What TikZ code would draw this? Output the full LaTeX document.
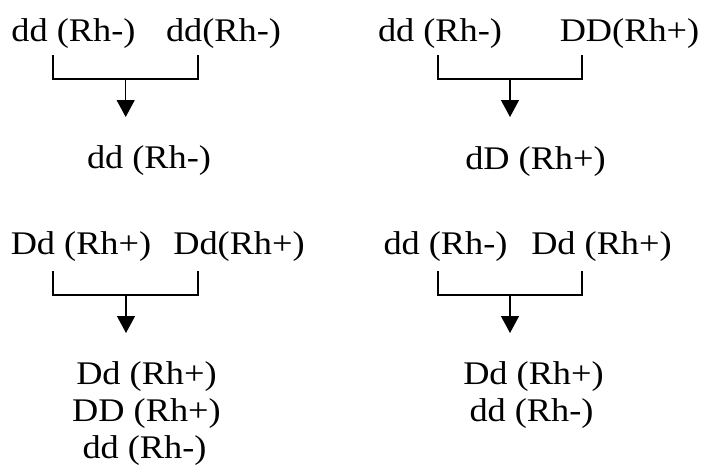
\documentclass[tikz,border=0pt]{standalone}
\usepackage{fontspec}
\setmainfont{Liberation Serif}[FakeStretch=1.1]
\usetikzlibrary{arrows.meta}
\tikzset{
  lbl/.style={anchor=base, inner sep=0pt, font=\fontsize{33}{37}\selectfont},
  brk/.style={line width=1.3pt},
  stem/.style={line width=1.3pt, -{Triangle[width=18pt,length=17pt]}}
}
\begin{document}
\begin{tikzpicture}[x=1pt,y=-1pt]
\useasboundingbox (0,0) rectangle (704,472);
% ---- group 1 (top left)
\node[lbl] (a1) at (73.5,41) {dd (Rh-)};
\node[lbl] (a2) at (223.5,41) {dd(Rh-)};
\node[lbl] (ar) at (149,168) {dd (Rh-)};
\coordinate (aL) at (53,55);
\coordinate (aR) at (198,55);
\coordinate (aJ) at (125.7,79);
\coordinate (aT) at (125.7,117);
\draw[brk] (aL) |- (aJ) -| (aR);
\draw[stem] (aJ) -- (aT);
% ---- group 2 (top right)
\node[lbl] (b1) at (440,41) {dd (Rh-)};
\node[lbl] (b2) at (629.5,41) {DD(Rh+)};
\node[lbl] (br) at (535.5,169) {dD (Rh+)};
\coordinate (bL) at (438,55);
\coordinate (bR) at (582,55);
\coordinate (bJ) at (510,79);
\coordinate (bT) at (510,117);
\draw[brk] (bL) |- (bJ) -| (bR);
\draw[stem] (bJ) -- (bT);
% ---- group 3 (bottom left)
\node[lbl] (c1) at (81,254) {Dd (Rh+)};
\node[lbl] (c2) at (239,254) {Dd(Rh+)};
\node[lbl] (cr1) at (146.5,384) {Dd (Rh+)};
\node[lbl] (cr2) at (146.5,421) {DD (Rh+)};
\node[lbl] (cr3) at (144.5,458) {dd (Rh-)};
\coordinate (cL) at (53,271);
\coordinate (cR) at (198,271);
\coordinate (cJ) at (126,295);
\coordinate (cT) at (126,333);
\draw[brk] (cL) |- (cJ) -| (cR);
\draw[stem] (cJ) -- (cT);
% ---- group 4 (bottom right)
\node[lbl] (d1) at (445.5,254) {dd (Rh-)};
\node[lbl] (d2) at (601.5,254) {Dd (Rh+)};
\node[lbl] (dr1) at (533.5,384) {Dd (Rh+)};
\node[lbl] (dr2) at (531.5,421) {dd (Rh-)};
\coordinate (dL) at (438,271);
\coordinate (dR) at (582,271);
\coordinate (dJ) at (510,295);
\coordinate (dT) at (510,333);
\draw[brk] (dL) |- (dJ) -| (dR);
\draw[stem] (dJ) -- (dT);
\end{tikzpicture}
\end{document}
